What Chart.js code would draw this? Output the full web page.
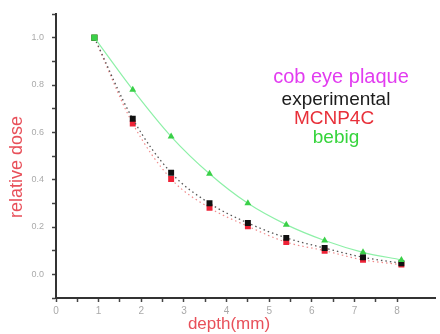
<!DOCTYPE html>
<html>
<head>
<meta charset="utf-8">
<script src="https://cdn.jsdelivr.net/npm/chart.js@4"></script>
<style>
  html, body { margin: 0; padding: 0; background: #fff; }
  #wrap { width: 440px; height: 334px; position: relative; }
</style>
</head>
<body>
<div id="wrap"><canvas id="doseChart"></canvas></div>
<script>
// depth (mm) and relative dose
const depths = [0.9, 1.8, 2.7, 3.6, 4.5, 5.4, 6.3, 7.2, 8.1];
const experimental = [1.0, 0.657, 0.429, 0.300, 0.217, 0.154, 0.111, 0.072, 0.047];
const mcnp4c = [1.0, 0.637, 0.403, 0.281, 0.203, 0.136, 0.100, 0.061, 0.041];
const bebig = [1.0, 0.780, 0.582, 0.425, 0.300, 0.210, 0.143, 0.093, 0.061];
const yLabels = ['0.0', '0.2', '0.4', '0.6', '0.8', '1.0'];
const xLabels = ['0', '1', '2', '3', '4', '5', '6', '7', '8'];
const legendItems = ['cob eye plaque', 'experimental', 'MCNP4C', 'bebig'];
const xTitle = 'depth(mm)';
const yTitle = 'relative dose';

const pts = arr => arr.map((v, i) => ({ x: depths[i], y: v }));
const FONT = "'Liberation Sans', Arial, sans-serif";

// free texts: legend in the upper right + both axis titles
const freeText = {
    id: 'freeText',
    afterDraw(chart) {
        const c = chart.ctx;
        const colors = ['#e23cf0', '#1c1c1c', '#e8303a', '#36d43c'];
        const ys = [77, 100, 119, 138];
        const xs = [341, 336, 334, 336];
        const sizes = [20, 19, 19, 19];
        c.save();
        c.textAlign = 'center';
        c.textBaseline = 'middle';
        legendItems.forEach((t, i) => {
            c.font = sizes[i] + 'px ' + FONT;
            c.fillStyle = colors[i];
            c.fillText(t, xs[i], ys[i]);
        });
        c.fillStyle = '#e8505a';
        c.font = '17px ' + FONT;
        c.fillText(xTitle, 229, 324);
        c.translate(17, 167);
        c.rotate(-Math.PI / 2);
        c.font = '18px ' + FONT;
        c.fillText(yTitle, 0, 0);
        c.restore();
    }
};

new Chart(document.getElementById('doseChart'), {
    type: 'line',
    data: {
        datasets: [
            {
                label: 'bebig',
                data: pts(bebig),
                borderColor: '#8ef0a8',
                borderWidth: 1.2,
                backgroundColor: '#3ad048',
                pointStyle: bebig.map((v, i) => i === 0 ? 'rect' : 'triangle'),
                pointRadius: bebig.map((v, i) => i === 0 ? 4.5 : 4),
                pointBorderWidth: 0,
                tension: 0.4,
                cubicInterpolationMode: 'monotone',
                order: 0
            },
            {
                label: 'experimental',
                data: pts(experimental),
                borderColor: '#555',
                borderWidth: 1.3,
                borderDash: [1.5, 3],
                backgroundColor: '#111',
                pointStyle: 'rect',
                pointRadius: 4.2,
                pointBorderWidth: 0,
                cubicInterpolationMode: 'monotone',
                order: 1
            },
            {
                label: 'MCNP4C',
                data: pts(mcnp4c),
                borderColor: 'rgba(230,60,60,0.6)',
                borderWidth: 1.2,
                borderDash: [1.5, 3],
                backgroundColor: '#ee2236',
                pointStyle: 'rect',
                pointRadius: 4.2,
                pointBorderWidth: 0,
                cubicInterpolationMode: 'monotone',
                order: 2
            }
        ]
    },
    options: {
        responsive: true,
        maintainAspectRatio: false,
        animation: false,
        layout: { padding: { top: 14, right: 0, left: 0, bottom: 0 } },
        plugins: {
            legend: { display: false },
            tooltip: { enabled: false }
        },
        scales: {
            x: {
                type: 'linear',
                min: 0,
                max: 8.9,
                afterBuildTicks: s => {
                    s.ticks = s.ticks.filter(t => Math.abs(t.value * 2 - Math.round(t.value * 2)) < 1e-6);
                },
                afterFit: s => { s.height = 36; },
                ticks: {
                    stepSize: 0.5,
                    autoSkip: false,
                    maxRotation: 0,
                    padding: 3,
                    color: '#aaa',
                    font: { family: FONT, size: 10 },
                    callback: v => Number.isInteger(v) ? xLabels[v] : ''
                },
                grid: { drawOnChartArea: false, tickLength: 4, tickColor: '#444', tickWidth: 1.5 },
                border: { display: true, color: '#333', width: 2 }
            },
            y: {
                min: -0.1,
                max: 1.1,
                afterBuildTicks: s => {
                    s.ticks = s.ticks.filter(t => Math.abs(t.value * 10 - Math.round(t.value * 10)) < 1e-6);
                },
                afterFit: s => { s.width = 56; },
                ticks: {
                    stepSize: 0.1,
                    autoSkip: false,
                    padding: 8,
                    color: '#aaa',
                    font: { family: FONT, size: 9 },
                    callback: v => {
                        const k = Math.round(v * 10);
                        return (k >= 0 && k % 2 === 0 && k <= 10) ? yLabels[k / 2] : '';
                    }
                },
                grid: { drawOnChartArea: false, tickLength: 4, tickColor: '#444', tickWidth: 1.5 },
                border: { display: true, color: '#333', width: 2 }
            }
        }
    },
    plugins: [freeText]
});
</script>
</body>
</html>
